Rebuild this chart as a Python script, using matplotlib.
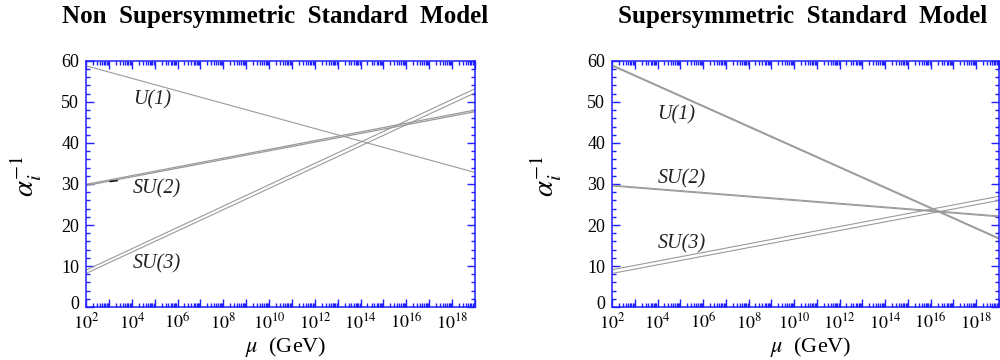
import numpy as np
import matplotlib
matplotlib.use("Agg")
import matplotlib.pyplot as plt
import matplotlib.transforms as mtrans
from matplotlib.ticker import LogLocator, FuncFormatter, MultipleLocator

plt.rcParams['font.family'] = ['Liberation Serif', 'DejaVu Serif']
plt.rcParams['mathtext.fontset'] = 'stix'

# energy scale endpoints (GeV); running is linear in log(mu)
mu = [1e2, 1e19]

# non supersymmetric standard model: inverse couplings at the two ends
nsm_u1 = [58.8, 32.8]
nsm_su2 = [[29.6, 47.6], [29.9, 48.0]]
nsm_su3 = [[9.0, 53.2], [8.2, 52.2]]
nsm_mark_mu = [10**3.05, 10**3.36]
nsm_mark_val = [30.6, 30.8]

# supersymmetric standard model
susy_u1 = [[59.0, 16.8], [58.8, 16.6]]
susy_su2 = [[29.7, 22.2], [29.5, 22.0]]
susy_su3 = [[9.1, 27.0], [8.2, 26.0]]

group_names = ['U(1)', 'SU(2)', 'SU(3)']
nsm_label_pos = [(10**4.05, 50.6), (10**4.05, 28.7), (10**4.05, 10.5)]
susy_label_pos = [(10**4.0, 46.9), (10**4.0, 31.3), (10**4.0, 15.5)]

line_col = '#9a9a9a'
axis_col = '#1f1fff'


def even_power(x, pos):
    e = int(round(np.log10(x)))
    if e % 2:
        return ''
    return r'$10^{%d}$' % e


def style_axes(ax):
    ax.set_xscale('log')
    ax.set_xlim(1e2, 1e19)
    ax.set_ylim(0, 60)
    ax.xaxis.set_major_locator(LogLocator(base=10, numticks=100))
    ax.xaxis.set_minor_locator(LogLocator(base=10, subs=np.arange(2, 10), numticks=100))
    ax.xaxis.set_major_formatter(FuncFormatter(even_power))
    ax.yaxis.set_major_locator(MultipleLocator(10))
    ax.yaxis.set_minor_locator(MultipleLocator(2))
    ax.tick_params(which='both', direction='in', top=True, right=True,
                   color=axis_col, width=1, labelsize=13)
    ax.tick_params(which='major', length=6)
    ax.tick_params(which='minor', length=3)
    ax.tick_params(axis='x', pad=4)
    ax.tick_params(axis='y', pad=5)
    for s in ax.spines.values():
        s.set_color(axis_col)
        s.set_linewidth(1.1)


fig = plt.figure(figsize=(10, 3.6), dpi=100)
ax1 = fig.add_axes([0.086, 0.147, 0.389, 0.684])
ax2 = fig.add_axes([0.612, 0.147, 0.387, 0.684])

# left panel
ax1.plot(mu, nsm_u1, color=line_col, lw=0.8)
for y in nsm_su2:
    ax1.plot(mu, y, color=line_col, lw=0.9)
for y in nsm_su3:
    ax1.plot(mu, y, color=line_col, lw=0.8)
ax1.plot(nsm_mark_mu, nsm_mark_val, color='black', lw=1.0)

# right panel
for y in susy_u1:
    ax2.plot(mu, y, color=line_col, lw=0.9)
for y in susy_su2:
    ax2.plot(mu, y, color=line_col, lw=0.8)
for y in susy_su3:
    ax2.plot(mu, y, color=line_col, lw=0.8)

for ax, pos in [(ax1, nsm_label_pos), (ax2, susy_label_pos)]:
    style_axes(ax)
    for name, (x, y) in zip(group_names, pos):
        ax.text(x, y, name, fontsize=14.5, style='italic', va='center', ha='left',
                color='#222222')

fig.text(0.275, 0.953, 'Non  Supersymmetric  Standard  Model', ha='center', va='center',
         fontsize=18, fontweight='bold')
fig.text(0.803, 0.953, 'Supersymmetric  Standard  Model', ha='center', va='center',
         fontsize=18, fontweight='bold')

for x in (0.026, 0.546):
    fig.text(x, 0.51, r'$\alpha_i^{-1}$', rotation=90, ha='center', va='center',
             fontsize=21)

fig.text(0.286, 0.004, r'$\mu$  (GeV)', ha='center', va='bottom', fontsize=16)
fig.text(0.811, 0.004, r'$\mu$  (GeV)', ha='center', va='bottom', fontsize=16)

# lift the "0" label a little so it clears the 10^2 label
fig.canvas.draw()
lift = mtrans.ScaledTranslation(0, 3 / 72, fig.dpi_scale_trans)
for ax in (ax1, ax2):
    for t in ax.yaxis.get_major_ticks():
        if abs(t.get_loc()) < 1e-9:
            t.label1.set_transform(t.label1.get_transform() + lift)

fig.savefig('out.png', dpi=100)
